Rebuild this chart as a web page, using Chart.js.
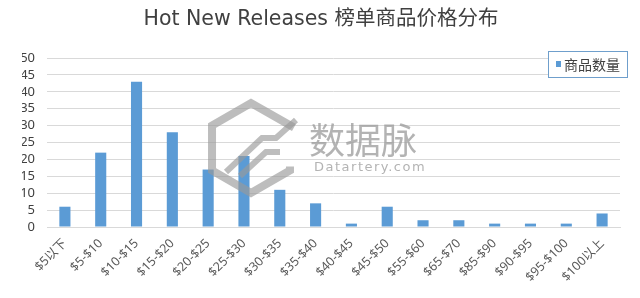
<!DOCTYPE html>
<html>
<head>
<meta charset="utf-8">
<script src="https://cdn.jsdelivr.net/npm/chart.js@4.4.0/dist/chart.umd.min.js"></script>
<style>
  html, body { margin: 0; padding: 0; background: #fff; }
  #wrap { width: 640px; height: 298px; }
</style>
</head>
<body>
<div id="wrap"><canvas id="myChart" width="640" height="298"></canvas></div>
<script>
var priceRanges = ['$5以下', '$5-$10', '$10-$15', '$15-$20', '$20-$25', '$25-$30', '$30-$35', '$35-$40',
                   '$40-$45', '$45-$50', '$55-$60', '$65-$70', '$85-$90', '$90-$95', '$95-$100', '$100以上'];
var productCounts = [6, 22, 43, 28, 17, 21, 11, 7, 1, 6, 2, 2, 1, 1, 1, 4];
var seriesName = '商品数量';
var yMax = 50, yStep = 5;

var FONT = '"Noto Sans", "Noto Sans CJK SC", sans-serif';
var barColor = '#5b9bd5';

// watermark (logo + text) drawn over the bars, semi transparent
var watermark = {
    id: 'watermark',
    afterDatasetsDraw: function (chart) {
        var ctx = chart.ctx;
        ctx.save();
        ctx.globalAlpha = 0.65;
        ctx.strokeStyle = '#9a9a9a';
        ctx.lineWidth = 8;
        ctx.lineJoin = 'miter';
        var cx = 251, cy = 148, r = 45;
        var pts = [];
        for (var i = 0; i < 6; i++) {
            var a = (-90 + 60 * i) * Math.PI / 180;
            pts.push([cx + r * Math.cos(a), cy + r * Math.sin(a)]);
        }
        // open hexagon: skip the right vertical side
        ctx.beginPath();
        ctx.moveTo(pts[2][0], pts[2][1] - 4);
        ctx.lineTo(pts[2][0], pts[2][1]);
        ctx.lineTo(pts[3][0], pts[3][1]);
        ctx.lineTo(pts[4][0], pts[4][1]);
        ctx.lineTo(pts[5][0], pts[5][1]);
        ctx.lineTo(pts[0][0], pts[0][1]);
        ctx.lineTo(pts[1][0] + 4, pts[1][1] + 2);
        ctx.stroke();
        // inner arrow strokes
        ctx.lineWidth = 6;
        ctx.beginPath();
        ctx.moveTo(226, 172); ctx.lineTo(262, 138); ctx.lineTo(276, 138); ctx.lineTo(296, 120);
        ctx.moveTo(240, 176); ctx.lineTo(266, 152); ctx.lineTo(280, 152);
        ctx.stroke();
        ctx.globalAlpha = 0.75;
        ctx.fillStyle = '#9a9a9a';
        ctx.font = '36px "Noto Sans CJK SC", sans-serif';
        ctx.textBaseline = 'middle';
        ctx.textAlign = 'left';
        ctx.fillText('数据脉', 309, 140);
        ctx.font = '13px "DejaVu Sans", sans-serif';
        if ('letterSpacing' in ctx) ctx.letterSpacing = '1.5px';
        ctx.fillText('Datartery.com', 314, 168);
        ctx.restore();
    }
};

// boxed legend in the top right corner
var boxLegend = {
    id: 'boxLegend',
    afterDraw: function (chart) {
        var ctx = chart.ctx;
        var ds = chart.data.datasets[0];
        ctx.save();
        ctx.fillStyle = '#fff';
        ctx.fillRect(548, 51, 80, 26);
        ctx.strokeStyle = '#6f9fcc';
        ctx.lineWidth = 1;
        ctx.strokeRect(548.5, 51.5, 79, 26);
        ctx.fillStyle = ds.backgroundColor;
        ctx.fillRect(556, 61, 5, 6);
        ctx.fillStyle = '#404040';
        ctx.font = '14px "Noto Sans CJK SC", sans-serif';
        ctx.textBaseline = 'middle';
        ctx.fillText(ds.label, 564, 64.5);
        ctx.restore();
    }
};

var ctx = document.getElementById('myChart');
var barGraph = new Chart(ctx, {
    type: 'bar',
    data: {
        labels: priceRanges,
        datasets: [{
            label: seriesName,
            data: productCounts,
            backgroundColor: barColor,
            borderWidth: 0,
            categoryPercentage: 1,
            barPercentage: 0.31
        }]
    },
    plugins: [watermark, boxLegend],
    options: {
        responsive: false,
        animation: false,
        layout: { padding: { left: 22, right: 20, top: 0, bottom: 0 } },
        plugins: {
            legend: { display: false },
            tooltip: { enabled: false },
            title: {
                display: true,
                text: 'Hot New Releases 榜单商品价格分布',
                color: '#404040',
                font: { family: '"DejaVu Sans", "Noto Sans CJK SC", sans-serif', size: 20.5, weight: 'normal', lineHeight: 1.2 },
                padding: { top: 7, bottom: 26.4 }
            }
        },
        scales: {
            x: {
                grid: { display: false },
                border: { display: true, color: '#d9d9d9', width: 1 },
                ticks: {
                    color: '#595959',
                    font: { family: FONT, size: 12.5 },
                    minRotation: 45,
                    maxRotation: 45,
                    autoSkip: false,
                    padding: 1
                },
                afterFit: function (scale) { scale.height = 71; }
            },
            y: {
                min: 0,
                max: yMax,
                grid: { color: '#d9d9d9', lineWidth: 1, drawTicks: false },
                border: { display: false },
                ticks: {
                    stepSize: yStep,
                    autoSkip: false,
                    color: '#404040',
                    font: { family: FONT, size: 13 },
                    padding: 12
                },
                afterFit: function (scale) { scale.width = 25; }
            }
        }
    }
});
</script>
</body>
</html>
